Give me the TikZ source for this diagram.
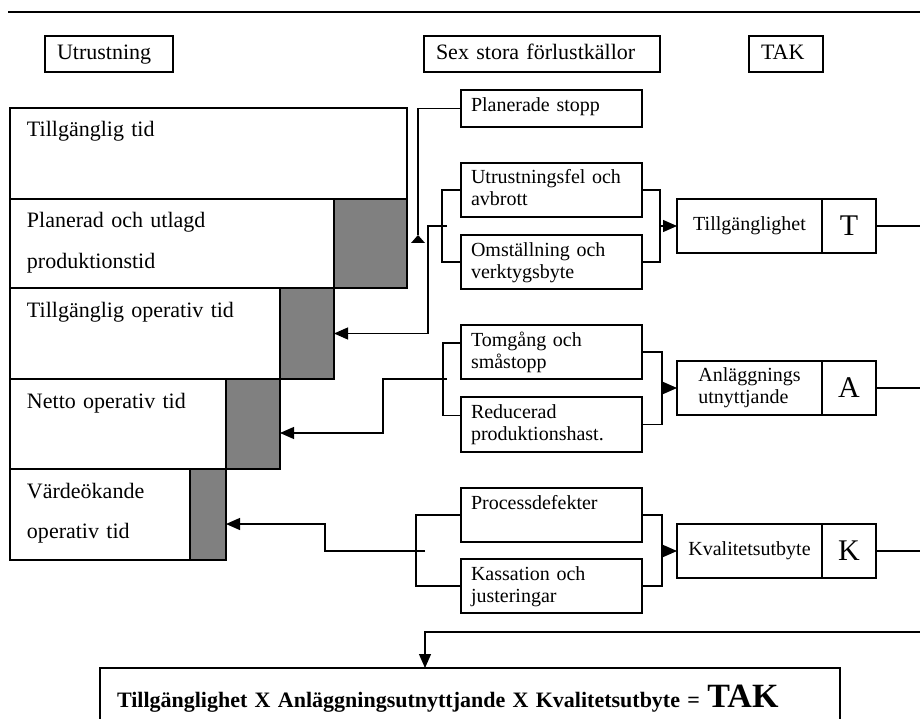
\documentclass[tikz,border=0pt]{standalone}
\usepackage{fontspec}
\setmainfont{Liberation Serif}
\usetikzlibrary{arrows.meta,positioning}

\begin{document}
\begin{tikzpicture}[x=1pt,y=-1pt,line width=1.2pt,
  >={Triangle[length=14pt,width=12pt]},
  every node/.style={outer sep=0pt},
  head/.style={draw,line width=2.4pt,anchor=north west,align=left,
    inner xsep=12pt,inner ysep=0pt,text height=24pt,text depth=12pt,
    font=\fontsize{22}{26}\selectfont},
  tid/.style={draw,anchor=north west,align=left,inner xsep=17pt,
    inner ysep=0pt,text height=29pt,font=\fontsize{22}{40}\selectfont},
  grey/.style={draw,fill=gray,inner sep=0pt},
  loss/.style={draw,anchor=north west,align=left,inner xsep=10pt,
    inner ysep=0pt,text width=161pt,text height=21pt,text depth=33pt,
    font=\fontsize{20}{22}\selectfont},
  kpi/.style={draw,anchor=north west,inner sep=0pt,align=left,
    minimum width=145pt,minimum height=54pt,
    font=\fontsize{20}{22}\selectfont},
  letter/.style={draw,inner sep=0pt,minimum width=54pt,
    minimum height=54pt,font=\fontsize{30}{30}\selectfont}]
\useasboundingbox (0,0) rectangle (920,719);
\draw[line width=1.8pt] (8,12) -- (920,12);
% column headings
\node[head,text width=104pt] (hU) at (45,36) {Utrustning};
\node[head,text width=212pt] (hS) at (424,36) {Sex stora förlustkällor};
\node[head,text width=50pt] (hT) at (749,36) {TAK};
% equipment time, step by step
\node[tid,text width=363pt,text depth=62pt] (wTT) at (10,108) {Tillgänglig tid};
\node[tid,text width=290pt,text depth=60pt] (wPL) at (10,199)
  {Planerad och utlagd\\produktionstid};
\node[grey,right=0pt of wPL,minimum width=73pt,minimum height=89pt] (gPL) {};
\node[tid,text width=236pt,text depth=62pt] (wTO) at (10,288)
  {Tillgänglig operativ tid};
\node[grey,right=0pt of wTO,minimum width=54pt,minimum height=91pt] (gTO) {};
\node[tid,text width=182pt,text depth=61pt] (wNO) at (10,379)
  {Netto operativ tid};
\node[grey,right=0pt of wNO,minimum width=54pt,minimum height=90pt] (gNO) {};
\node[tid,text width=146pt,text depth=62pt] (wVO) at (10,469)
  {Värdeökande\\operativ tid};
\node[grey,right=0pt of wVO,minimum width=36pt,minimum height=91pt] (gVO) {};
% the six losses
\node[loss,text height=22pt,text depth=15pt] (ps) at (461,90) {Planerade stopp};
\node[loss] (uf) at (461,163) {Utrustningsfel och\\avbrott};
\node[loss] (om) at (461,235) {Omställning och\\verktygsbyte};
\node[loss] (tg) at (461,325) {Tomgång och\\småstopp};
\node[loss,text depth=34pt] (rp) at (461,397) {Reducerad\\produktionshast.};
\node[loss] (pd) at (461,488) {Processdefekter};
\node[loss] (ks) at (461,559) {Kassation och\\justeringar};
% TAK factors
\node[kpi] (tl) at (677,199) {Tillgänglighet};
\node[letter,right=0pt of tl] (tT) {T};
\node[kpi] (al) at (677,361) {Anläggnings\\utnyttjande};
\node[letter,right=0pt of al] (aA) {A};
\node[kpi] (kl) at (677,524) {Kvalitetsutbyte};
\node[letter,right=0pt of kl] (kK) {K};
% result
\node[draw,anchor=north west,align=left,inner xsep=17pt,inner ysep=0pt,
  text width=706pt,text height=39pt,text depth=30pt,
  font=\fontsize{22}{26}\selectfont\bfseries] (res) at (100,668)
  {Tillgänglighet X Anläggningsutnyttjande X Kvalitetsutbyte =
  {\fontsize{34}{34}\selectfont TAK}};
\coordinate (rim) at (920,0);
\coordinate (psT) at (418,235);
\coordinate (back) at (920,632);
% planned stops
\draw (ps.west) -| (psT);
\fill (psT) -- ++(7,8) -- ++(-14,0) -- cycle;
% breakdowns and set-up
\draw (uf.west) -- ++(-19,0) |- (om.west);
\draw[->] (447,226) -- (428,226) |- (gTO.east);
\draw (uf.east) -- ++(18,0) |- (om.east);
\draw[->] (660,226) -- (tl.west);
% idling and speed
\draw ([yshift=9pt]tg.west) -- ++(-18,0) |- ([yshift=9pt]rp.west);
\draw[->] (447,379) -- (383,379) |- ([yshift=-9pt]gNO.east);
\draw (tg.east) -- ++(20,0) |- (rp.east);
\draw[->] (662,388) -- (al.west);
% defects and scrap
\draw (pd.west) -- ++(-45,0) |- (ks.west);
\draw[->] (425,551) -- (325,551) |- ([yshift=-9.5pt]gVO.east);
\draw (pd.east) -- ++(20,0) |- (ks.east);
\draw[->] (662,551) -- (kl.west);
% out to the product
\draw (tT.east) -- (tT.east -| rim);
\draw (aA.east) -- (aA.east -| rim);
\draw (kK.east) -- (kK.east -| rim);
\draw[->] (back) -| ([xshift=-45pt]res.north);
\end{tikzpicture}
\end{document}
